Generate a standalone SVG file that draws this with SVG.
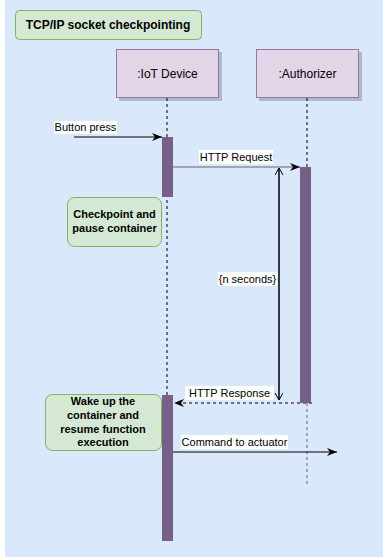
<svg xmlns="http://www.w3.org/2000/svg" width="383" height="558" viewBox="0 0 383 558">
<defs>
<style>
text{font-family:"Liberation Sans",Arial,sans-serif;fill:#000;}
.lbl{font-size:11px;text-anchor:middle;}
.bold{font-weight:bold;}
.note{fill:#d5e8d4;stroke:#82b366;stroke-width:1;}
.actor{fill:#e1d5e7;stroke:#9673a6;stroke-width:1;}
.shadow{fill:#000;opacity:0.2;}
.bar{fill:#76608a;}
.life{stroke:#000;stroke-width:1;stroke-dasharray:3,3;fill:none;}
.msg{stroke:#000;stroke-width:1;fill:none;}
.bg{fill:#fff;}
</style>
<marker id="blk" markerUnits="userSpaceOnUse" markerWidth="12" markerHeight="10" refX="10" refY="4" orient="auto">
<path d="M0,0 L10,4 L0,8 L3,4 z" fill="#000"/>
</marker>
<marker id="opn" markerUnits="userSpaceOnUse" markerWidth="12" markerHeight="12" refX="8" refY="4" orient="auto">
<path d="M1,0 L8,4 L1,8" fill="none" stroke="#000" stroke-width="1"/>
</marker>
</defs>
<rect x="5" y="-1" width="380" height="558" fill="#dae8fc"/>
<g id="title">
<rect class="note" x="15.5" y="10.5" width="186" height="29" rx="4"/>
<text class="bold" x="108" y="29" font-size="12" text-anchor="middle">TCP/IP socket checkpointing</text>
</g>
<g id="connectors">
<line class="life" x1="167" y1="98" x2="167" y2="395"/>
<line class="life" x1="307" y1="98" x2="307" y2="167"/>
<line class="life" x1="307" y1="403" x2="307" y2="485" style="stroke:#666"/>
<line class="msg" x1="74" y1="137" x2="162" y2="137" marker-end="url(#blk)"/>
<line class="msg" x1="173" y1="167" x2="300" y2="167" style="stroke:#666" marker-end="url(#blk)"/>
<line class="msg" x1="279" y1="400" x2="279" y2="168" marker-end="url(#opn)"/>
<line class="msg" x1="279" y1="168" x2="279" y2="400" marker-end="url(#opn)"/>
<line class="msg" x1="312" y1="403" x2="174" y2="403" stroke-dasharray="3,3" marker-end="url(#blk)"/>
<line class="msg" x1="173" y1="452" x2="337" y2="452" marker-end="url(#blk)"/>
<rect class="bg" x="54" y="121" width="63" height="13"/>
<text class="lbl" x="85.5" y="131">Button press</text>
<rect class="bg" x="199" y="150" width="74" height="14"/>
<text class="lbl" x="236" y="161">HTTP Request</text>
<rect class="bg" x="218" y="272" width="59" height="14"/>
<text class="lbl" x="247.5" y="283">{n seconds}</text>
<rect class="bg" x="185" y="386" width="89" height="14"/>
<text class="lbl" x="229.5" y="397">HTTP Response</text>
<rect class="bg" x="181" y="435" width="107" height="14"/>
<text class="lbl" x="234.5" y="446">Command to actuator</text>
</g>
<g id="iot-device">
<rect class="shadow" x="119" y="52" width="103" height="49"/>
<rect class="actor" x="116.5" y="49.5" width="102" height="48"/>
<text x="167.5" y="78" font-size="12" text-anchor="middle">:IoT Device</text>
</g>
<g id="authorizer">
<rect class="shadow" x="259" y="52" width="103" height="49"/>
<rect class="actor" x="256.5" y="49.5" width="102" height="48"/>
<text x="307.5" y="78" font-size="12" text-anchor="middle">:Authorizer</text>
</g>
<g id="iot-activation-1"><rect class="bar" x="162" y="137" width="11" height="60"/></g>
<g id="auth-activation"><rect class="bar" x="300" y="167" width="11" height="236"/></g>
<g id="iot-activation-2"><rect class="bar" x="162" y="395" width="11" height="146"/></g>
<g id="checkpoint-note">
<rect class="note" x="67.5" y="197.5" width="94" height="49" rx="7"/>
<text class="lbl bold" x="114.5" y="218">Checkpoint and</text>
<text class="lbl bold" x="114.5" y="232">pause container</text>
</g>
<g id="wake-note">
<rect class="note" x="45.5" y="394.5" width="116" height="56" rx="7"/>
<text class="lbl bold" x="103" y="405">Wake up the</text>
<text class="lbl bold" x="103" y="419">container and</text>
<text class="lbl bold" x="103" y="433">resume function</text>
<text class="lbl bold" x="103" y="446">execution</text>
</g>
</svg>
